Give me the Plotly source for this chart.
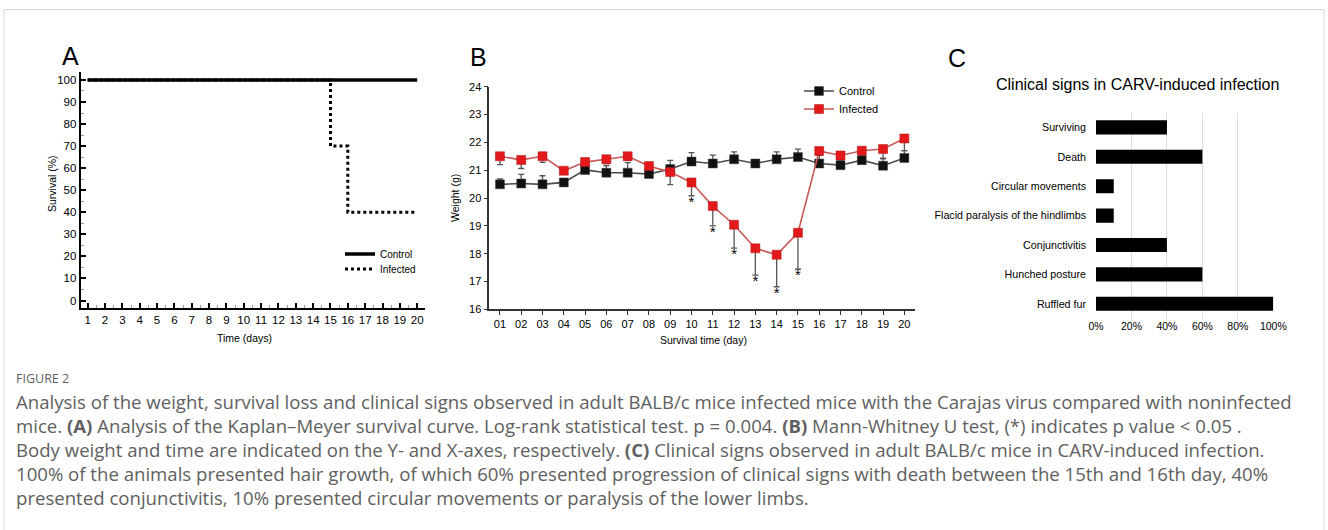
import plotly.graph_objects as go

W, H = 1328, 530

# ---------------- DATA ----------------
# Panel A: Kaplan-Meier survival steps
control_time = [1, 20]
control_survival = [100, 100]
infected_time = [1, 15, 16, 20]
infected_survival = [100, 70, 40, 40]
a_ticks = [0, 10, 20, 30, 40, 50, 60, 70, 80, 90, 100]
a_days = [1, 2, 3, 4, 5, 6, 7, 8, 9, 10, 11, 12, 13, 14, 15, 16, 17, 18, 19, 20]

# Panel B: body weight (g)
days = [1, 2, 3, 4, 5, 6, 7, 8, 9, 10, 11, 12, 13, 14, 15, 16, 17, 18, 19, 20]
day_labels = ["01", "02", "03", "04", "05", "06", "07", "08", "09", "10",
              "11", "12", "13", "14", "15", "16", "17", "18", "19", "20"]
control_weight = [20.49, 20.52, 20.49, 20.56, 21.01, 20.91, 20.91, 20.86, 21.04, 21.31,
                  21.24, 21.39, 21.24, 21.39, 21.47, 21.24, 21.18, 21.36, 21.16, 21.44]
control_err = [0.20, 0.33, 0.31, 0.12, 0.15, 0.25, 0.36, 0.12, 0.31, 0.32,
               0.30, 0.27, 0.12, 0.27, 0.29, 0.30, 0.15, 0.15, 0.26, 0.26]
infected_weight = [21.50, 21.37, 21.50, 20.98, 21.29, 21.39, 21.50, 21.15, 20.93, 20.56,
                   19.71, 19.04, 18.19, 17.96, 18.75, 21.69, 21.53, 21.70, 21.76, 22.14]
infected_err = [0.30, 0.31, 0.22, 0.12, 0.12, 0.15, 0.15, 0.12, 0.45, 0.48,
                0.71, 0.84, 0.96, 1.15, 1.31, 0.15, 0.15, 0.15, 0.34, 0.44]
significant_days = [10, 11, 12, 13, 14, 15]
b_ticks = [16, 17, 18, 19, 20, 21, 22, 23, 24]

# Panel C: clinical signs (% of animals)
signs = ["Surviving", "Death", "Circular movements",
         "Flacid paralysis of the hindlimbs", "Conjunctivitis",
         "Hunched posture", "Ruffled fur"]
sign_pct = [40, 60, 10, 10, 40, 60, 100]
c_ticks = [0, 20, 40, 60, 80, 100]
c_ticklabels = ["0%", "20%", "40%", "60%", "80%", "100%"]

caption_lines = [
    "Analysis of the weight, survival loss and clinical signs observed in adult BALB/c mice infected mice with the Carajas virus compared with noninfected",
    "mice. <b>(A)</b> Analysis of the Kaplan\u2013Meyer survival curve. Log-rank statistical test. p = 0.004. <b>(B)</b> Mann-Whitney U test, (*) indicates p value &lt; 0.05 .",
    "Body weight and time are indicated on the Y- and X-axes, respectively. <b>(C)</b> Clinical signs observed in adult BALB/c mice in CARV-induced infection.",
    "100% of the animals presented hair growth, of which 60% presented progression of clinical signs with death between the 15th and 16th day, 40%",
    "presented conjunctivitis, 10% presented circular movements or paralysis of the lower limbs.",
]

# ---------------- HELPERS ----------------
def X(px):
    return px / W

def Y(py):
    return 1 - py / H

FONT = "Liberation Sans, Arial, sans-serif"
CAP_FONT = "Open Sans, sans-serif"
RED = "#e3191c"
RED_LINE = "#c85a58"

fig = go.Figure()

# ---------------- PANEL A ----------------
fig.add_trace(go.Scatter(
    x=infected_time, y=infected_survival, mode="lines", line_shape="hv",
    line=dict(color="black", width=3, dash="3px,3px"),
    name="Infected", legend="legend2", xaxis="x", yaxis="y"))
fig.add_trace(go.Scatter(
    x=control_time, y=control_survival, mode="lines",
    line=dict(color="black", width=3.5),
    name="Control", legend="legend", xaxis="x", yaxis="y"))

# ---------------- PANEL B ----------------
zeros = [0 for _ in days]
fig.add_trace(go.Scatter(
    x=days, y=control_weight, mode="lines+markers",
    line=dict(color="#4a4a4a", width=1.6),
    marker=dict(symbol="square", size=9, color="#111111",
                line=dict(color="#444444", width=0.5)),
    error_y=dict(type="data", symmetric=False, array=control_err, arrayminus=zeros,
                 color="#555555", thickness=1.3, width=3),
    name="Control", legend="legend3", xaxis="x2", yaxis="y2"))
fig.add_trace(go.Scatter(
    x=days, y=infected_weight, mode="lines+markers",
    line=dict(color=RED_LINE, width=1.6),
    marker=dict(symbol="square", size=9, color=RED,
                line=dict(color="#b01515", width=0.5)),
    error_y=dict(type="data", symmetric=False, array=zeros, arrayminus=infected_err,
                 color="#555555", thickness=1.3, width=3),
    name="Infected", legend="legend4", xaxis="x2", yaxis="y2"))

sig_y = [infected_weight[d - 1] - infected_err[d - 1] for d in significant_days]
fig.add_trace(go.Scatter(
    x=significant_days, y=sig_y, mode="text", text=["*" for _ in significant_days],
    textposition="bottom center",
    textfont=dict(family=FONT, size=15, color="black"),
    showlegend=False, hoverinfo="skip", xaxis="x2", yaxis="y2"))

# ---------------- PANEL C ----------------
fig.add_trace(go.Bar(
    x=sign_pct, y=signs, orientation="h", width=0.48,
    marker=dict(color="black", line=dict(width=0)),
    showlegend=False, xaxis="x3", yaxis="y3"))

# ---------------- LAYOUT ----------------
axA_common = dict(showline=True, linecolor="black", linewidth=2, mirror=False,
                  ticks="inside", ticklen=5, tickwidth=1.5, tickcolor="black",
                  showgrid=False, zeroline=False, automargin=False,
                  tickfont=dict(family=FONT, size=11.5, color="black"))
axB_common = dict(showline=True, linecolor="#333333", linewidth=1.5,
                  ticks="outside", ticklen=4, tickwidth=1.2, tickcolor="#333333",
                  showgrid=False, zeroline=False, automargin=False,
                  tickfont=dict(family=FONT, size=11, color="black"))

def legend_at(text_x, center_y, size):
    return dict(x=X(text_x - 40), y=Y(center_y), xanchor="left", yanchor="middle",
                bgcolor="rgba(0,0,0,0)", borderwidth=0,
                font=dict(family=FONT, size=size, color="black"))

def note(text, px, py, size, xanchor="center", angle=0, family=FONT, color="black"):
    return dict(text=text, x=X(px), y=Y(py), xref="paper", yref="paper",
                xanchor=xanchor, yanchor="middle", textangle=angle, showarrow=False,
                font=dict(family=family, size=size, color=color))

annotations = [
    note("A", 60, 56, 25, xanchor="left"),
    note("B", 468, 57, 25, xanchor="left"),
    note("C", 946, 58, 25, xanchor="left"),
    note("Time (days)", 244, 338, 10.5),
    note("Survival (%)", 52, 184, 10.5, angle=-90),
    note("Survival time (day)", 703, 340, 10.5),
    note("Weight (g)", 455, 198, 10.5, angle=-90),
    note("Clinical signs in CARV-induced infection", 1137, 85, 16),
    note("FIGURE 2", 14, 378, 12.5, xanchor="left", family=CAP_FONT, color="#5f5f5f"),
]
for i, line in enumerate(caption_lines):
    annotations.append(note(line, 14, 401 + 24 * i, 18.6, xanchor="left",
                            family=CAP_FONT, color="#606060"))

fig.update_layout(
    width=W, height=H,
    margin=dict(l=0, r=0, t=0, b=0, pad=0, autoexpand=False),
    paper_bgcolor="white", plot_bgcolor="rgba(0,0,0,0)",
    font=dict(family=FONT, color="black"),
    xaxis=dict(domain=[X(80.7), X(425)], range=[0.6, 20.45], anchor="y",
               tickmode="array", tickvals=a_days,
               minor=dict(ticks="inside", dtick=0.5, tick0=0.5, ticklen=3,
                          tickcolor="#9a9a9a", tickwidth=1),
               **axA_common),
    yaxis=dict(domain=[Y(308), Y(72)], range=[-3.4, 103.6], anchor="x",
               tickmode="array", tickvals=a_ticks,
               minor=dict(ticks="inside", dtick=5, tick0=0, ticklen=3,
                          tickcolor="#9a9a9a", tickwidth=1),
               **axA_common),
    xaxis2=dict(domain=[X(489.3), X(915)], range=[0.5, 20.5], anchor="y2",
                tickmode="array", tickvals=days, ticktext=day_labels, **axB_common),
    yaxis2=dict(domain=[Y(309.3), Y(86.7)], range=[16, 24], anchor="x2",
                tickmode="array", tickvals=b_ticks, **axB_common),
    xaxis3=dict(domain=[X(1096), X(1273.3)], range=[0, 100], anchor="y3",
                tickmode="array", tickvals=c_ticks, ticktext=c_ticklabels,
                showgrid=True, gridcolor="#dcdcdc", gridwidth=1, zeroline=False,
                showline=False, ticks="", automargin=False,
                tickfont=dict(family=FONT, size=10.5, color="black")),
    yaxis3=dict(domain=[Y(318.5), Y(112.7)], anchor="x3",
                categoryorder="array", categoryarray=signs, autorange="reversed",
                showgrid=False, zeroline=False, showline=False, ticks="",
                ticklabelstandoff=9, automargin=False,
                tickfont=dict(family=FONT, size=10.7, color="black")),
    legend=legend_at(380, 254, 10),
    legend2=legend_at(380, 269, 10),
    legend3=legend_at(839, 91, 11),
    legend4=legend_at(839, 109, 11),
    annotations=annotations,
    shapes=[dict(type="rect", xref="paper", yref="paper",
                 x0=X(4), x1=X(1324), y0=-0.05, y1=Y(9.5),
                 line=dict(color="#d9d9d9", width=1), fillcolor="rgba(0,0,0,0)",
                 layer="below")],
)

# remove the default 8px page margin so the 1328x530 figure fills the window
fig.write_html("out.html",
               config={"displayModeBar": False},
               post_script="document.body.style.margin='0px';document.body.style.overflow='hidden';")
